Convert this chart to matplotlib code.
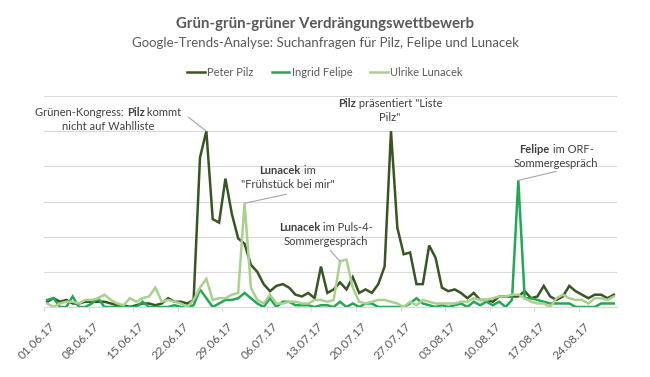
import matplotlib
matplotlib.use('Agg')
import matplotlib.pyplot as plt
import matplotlib.transforms as mtrans
import numpy as np
import pandas as pd
from matplotlib.offsetbox import TextArea, HPacker, VPacker, AnnotationBbox

plt.rcParams['font.family'] = ['Lato', 'DejaVu Sans']

# Google-Trends Werte, taeglich ab 01.06.2017
start = '2017-06-01'
pilz = [3, 5, 3, 4, 2, 2, 3, 3, 3, 3, 2, 1, 1, 0, 1, 2, 2, 1, 2, 5, 3, 3, 2, 4,
        85, 100, 50, 48, 73, 53, 39, 36, 24, 20, 13, 9, 12, 13, 11, 7, 6, 8, 5, 23,
        8, 10, 14, 10, 17, 8, 10, 8, 13, 23, 100, 45, 30, 31, 13, 13, 35, 28, 11, 9,
        10, 8, 5, 8, 4, 4, 3, 6, 6, 6, 6, 9, 5, 6, 12, 6, 4, 6, 12, 9, 7, 5, 7, 7, 5, 7]
felipe = [4, 5, 0, 0, 6, 0, 0, 2, 5, 0, 0, 0, 0, 0, 0, 3, 0, 0, 0, 0, 1, 0, 0, 1,
          10, 5, 0, 2, 4, 4, 5, 8, 5, 2, 0, 5, 0, 3, 3, 1, 1, 1, 0, 1,
          1, 0, 3, 0, 2, 0, 2, 2, 0, 0, 0, 0, 0, 2, 5, 2, 1, 0, 1, 0,
          1, 2, 0, 3, 1, 3, 1, 3, 0, 4, 72, 5, 5, 4, 3, 2, 2, 2, 2, 0, 0, 0, 0, 2, 2, 2]
lunacek = [2, 0, 2, 3, 3, 2, 4, 4, 5, 7, 4, 2, 1, 5, 3, 5, 6, 11, 3, 4, 3, 2, 0, 4,
           11, 16, 4, 5, 5, 7, 8, 59, 11, 4, 2, 7, 2, 2, 3, 3, 2, 2, 4, 4,
           3, 4, 26, 27, 11, 3, 2, 3, 4, 4, 3, 2, 0, 3, 1, 4, 3, 2, 2, 2,
           2, 3, 3, 5, 4, 4, 5, 6, 6, 7, 7, 5, 3, 2, 2, 0, 5, 7, 5, 4, 4, 2, 5, 5, 4, 6]
namen = ['Peter Pilz', 'Ingrid Felipe', 'Ulrike Lunacek']
farben = ['#375623', '#22a854', '#a9d18e']

dates = pd.date_range(start, periods=len(pilz))
x = np.arange(len(dates))

fig = plt.figure(figsize=(6.5, 3.77), dpi=100)
ax = fig.add_axes([44 / 650, 70 / 377, 573 / 650, 211 / 377])

for werte, name, farbe in zip([pilz, felipe, lunacek], namen, farben):
    ax.plot(x, werte, color=farbe, lw=1.8, label=name, solid_joinstyle='miter')

ax.set_xlim(-0.5, len(x) - 0.5)
ax.set_ylim(0, 120)
ax.set_yticks(np.arange(0, 121, 20))
ax.set_yticklabels([])
ax.tick_params(axis='y', length=0)
ax.grid(axis='y', color='#d9d9d9', lw=0.8)
ax.set_axisbelow(True)

ticks = x[::7]
ax.set_xticks(ticks - 0.5)
ax.set_xticklabels(dates[::7].strftime('%d.%m.%y'), rotation=45, ha='right',
                   rotation_mode='anchor', fontsize=8.5, color='#595959')
ax.tick_params(axis='x', length=3, color='#d9d9d9', pad=2)
verschiebung = mtrans.ScaledTranslation(5 / 100, -7 / 100, fig.dpi_scale_trans)
for lbl in ax.get_xticklabels():
    lbl.set_transform(lbl.get_transform() + verschiebung)
for s in ['top', 'right', 'left']:
    ax.spines[s].set_visible(False)
ax.spines['bottom'].set_color('#d9d9d9')

fig.text(0.5, 1 - 24 / 377, 'Grün-grün-grüner Verdrängungswettbewerb', ha='center',
         va='center', fontsize=10.8, fontweight='bold', color='#595959')
fig.text(0.5, 1 - 43 / 377, 'Google-Trends-Analyse: Suchanfragen für Pilz, Felipe und Lunacek',
         ha='center', va='center', fontsize=9.5, color='#595959')
fig.legend(loc='center', bbox_to_anchor=(0.5, 1 - 72 / 377), ncol=3, frameon=False,
           fontsize=8, labelcolor='#595959', handlelength=1.6, handletextpad=0.2,
           columnspacing=1.6)


def label(zeilen, idx, werte, box_off, line_off=None):
    rows = []
    for zeile in zeilen:
        teile = [TextArea(t, textprops=dict(fontsize=8, color='#404040',
                                            fontweight='bold' if fett else 'normal'))
                 for t, fett in zeile]
        rows.append(HPacker(children=teile, pad=0, sep=0, align='baseline'))
    box = VPacker(children=rows, pad=0, sep=2, align='center')
    ab = AnnotationBbox(box, (idx, werte[idx]), xybox=box_off, xycoords='data',
                        boxcoords='offset pixels', frameon=False)
    ax.add_artist(ab)
    if line_off is not None:
        ax.annotate('', xy=(idx, werte[idx]), xytext=line_off, textcoords='offset pixels',
                    arrowprops=dict(arrowstyle='-', color='#a6a6a6', lw=0.8,
                                    shrinkA=0, shrinkB=0))


label([[('Grünen-Kongress: ', False), ('Pilz', True), (' kommt', False)],
       [('nicht auf Wahlliste', False)]], 25, pilz, (-98, 12), (-18, 14))
label([[('Lunacek', True), (' im', False)],
       [('"Frühstück bei mir"', False)]], 31, lunacek, (43, 26), (42, 9))
label([[('Lunacek', True), (' im Puls-4-', False)],
       [('Sommergespräch', False)]], 46, lunacek, (-14, 27), (-10, 11))
label([[('Pilz', True), (' präsentiert "Liste', False)],
       [('Pilz"', False)]], 54, pilz, (-1, 21))
label([[('Felipe', True), (' im ORF-', False)],
       [('Sommergespräch', False)]], 74, felipe, (38, 24), (38, 9))

fig.savefig('out.png', dpi=100)
